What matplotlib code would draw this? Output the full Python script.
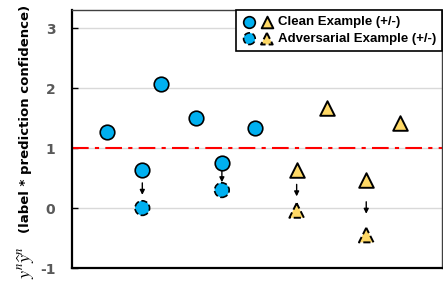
import matplotlib
matplotlib.use("Agg")
import matplotlib.pyplot as plt
from matplotlib.legend_handler import HandlerTuple
import numpy as np

plt.rcParams["mathtext.fontset"] = "stix"
plt.rcParams["axes.unicode_minus"] = False

# data
circle_x = [0.95, 1.9, 2.4, 3.35, 4.05, 4.95]
circle_clean = [1.26, 0.64, 2.07, 1.50, 0.75, 1.33]
circle_adv_x = [1.9, 4.05]
circle_adv = [0.0, 0.30]

tri_x = [6.07, 6.9, 7.95, 8.85]
tri_clean = [0.63, 1.66, 0.46, 1.41]
tri_adv_x = [6.07, 7.95]
tri_adv = [-0.04, -0.45]

yticks = [-1, 0, 1, 2, 3]
threshold = 1.0

blue = "#00B0F0"
gold = "#FFD966"

fig = plt.figure(figsize=(4.43, 2.81), dpi=100)
ax = fig.add_axes([0.1625, 0.046, 0.8355, 0.918])

ax.set_xlim(0, 10)
ax.set_ylim(-1, 3.3)
ax.set_yticks(yticks)
ax.set_xticks([])
ax.yaxis.grid(True, color="#d9d9d9", linewidth=1.0, zorder=0)
ax.set_axisbelow(True)

ax.axhline(threshold, color="red", linestyle=(0, (8, 3, 2, 3)), linewidth=1.5, zorder=1)

ms = 110
ax.scatter(circle_x, circle_clean, s=ms, c=blue, edgecolors="black", linewidths=1.2, zorder=3)
ax.scatter(circle_adv_x, circle_adv, s=ms, c=blue, edgecolors="black", linewidths=1.2,
           linestyles="--", zorder=3)
ax.scatter(tri_x, tri_clean, s=ms, marker="^", c=gold, edgecolors="black", linewidths=1.4, zorder=3)
ax.scatter(tri_adv_x, tri_adv, s=ms, marker="^", c=gold, edgecolors="black", linewidths=1.4,
           linestyles="--", zorder=3)

# arrows from clean to adversarial
pairs = [(x, circle_clean[circle_x.index(x)], a) for x, a in zip(circle_adv_x, circle_adv)]
pairs += [(x, tri_clean[tri_x.index(x)], a) for x, a in zip(tri_adv_x, tri_adv)]
for x, c, a in pairs:
    mid = (c + a) / 2
    half = min(0.1, (c - a) / 2 - 0.13)
    half = max(half, 0.08)
    ax.annotate("", xy=(x, mid - half), xytext=(x, mid + half),
                arrowprops=dict(arrowstyle="-|>", color="black", lw=1.0,
                                mutation_scale=7, shrinkA=0, shrinkB=0), zorder=2)

for s in ["left", "bottom"]:
    ax.spines[s].set_color("black")
    ax.spines[s].set_linewidth(1.6)
for s in ["top", "right"]:
    ax.spines[s].set_color("#404040")
    ax.spines[s].set_linewidth(1.0)

ax.tick_params(axis="y", direction="in", length=4, width=1, color="black",
               labelsize=10, labelcolor="#595959", pad=12)
for lab in ax.get_yticklabels():
    lab.set_fontweight("bold")

# y label in two pieces: math part (larger) and text part
fig.text(26 / 443, 1 - 263 / 281, r"$\boldsymbol{y^n\widehat{y}^n}$", rotation=90, fontsize=13,
         ha="center", va="center")
fig.text(26 / 443, 1 - 119 / 281, "(label * prediction confidence)", rotation=90,
         fontsize=9.5, fontweight="bold", ha="center", va="center")

# legend
lms = 70
h1 = ax.scatter([], [], s=lms, c=blue, edgecolors="black", linewidths=1.2)
h2 = ax.scatter([], [], s=lms, marker="^", c=gold, edgecolors="black", linewidths=1.4)
h3 = ax.scatter([], [], s=lms, c=blue, edgecolors="black", linewidths=1.2, linestyles="--")
h4 = ax.scatter([], [], s=lms, marker="^", c=gold, edgecolors="black", linewidths=1.4, linestyles="--")
leg = ax.legend([(h1, h2), (h3, h4)], ["Clean Example (+/-)", "Adversarial Example (+/-)"],
                handler_map={tuple: HandlerTuple(ndivide=None, pad=0.25)},
                loc="upper right", borderaxespad=0, fancybox=False, framealpha=1,
                edgecolor="black", handlelength=2.4, handletextpad=0.3,
                prop={"family": "Liberation Sans", "weight": "bold", "size": 9.5},
                borderpad=0.45, labelspacing=0.35, scatterpoints=1)
leg.get_frame().set_linewidth(1.2)

fig.savefig("out.png", dpi=100)
